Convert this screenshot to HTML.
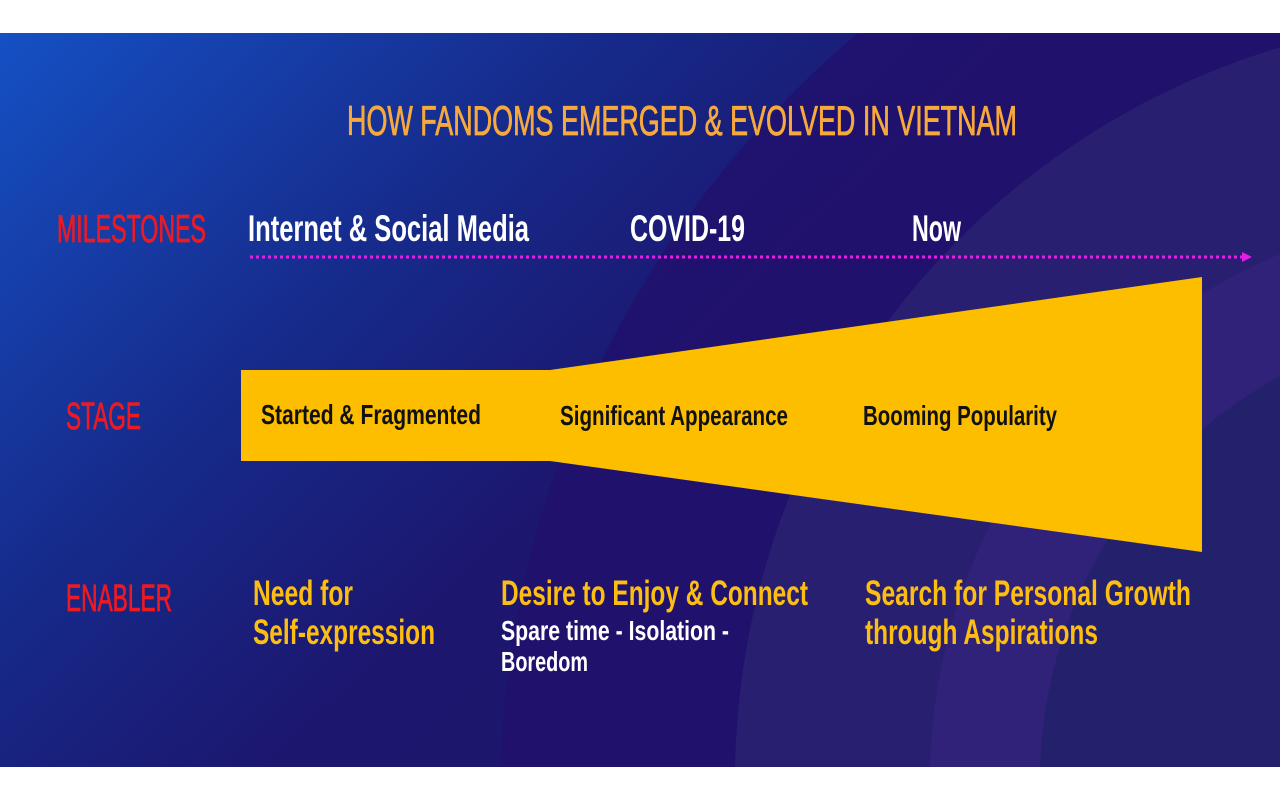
<!DOCTYPE html>
<html><head><meta charset="utf-8"><style>
html,body{margin:0;padding:0;background:#fff;width:1280px;height:800px;overflow:hidden;}
svg{display:block;}
text{font-family:"Liberation Sans Narrow","Liberation Sans",sans-serif;font-weight:bold;}
</style></head><body>
<svg width="1280" height="800" viewBox="0 0 1280 800" xmlns="http://www.w3.org/2000/svg">
<defs>
<linearGradient id="bg" x1="0" y1="0" x2="1" y2="0.6">
<stop offset="0" stop-color="#1550c4"/>
<stop offset="0.35" stop-color="#162a8a"/>
<stop offset="0.6" stop-color="#1c166e"/>
<stop offset="1" stop-color="#1f176a"/>
</linearGradient>
<clipPath id="c"><rect x="0" y="33" width="1280" height="734"/></clipPath>
</defs>
<rect x="0" y="0" width="1280" height="800" fill="#fff"/>
<g clip-path="url(#c)">
<rect x="0" y="33" width="1280" height="734" fill="url(#bg)"/>
<circle cx="1500" cy="800" r="1000" fill="#22106c" opacity="0.75"/>
<circle cx="1500" cy="780" r="765" fill="#2a2272" opacity="0.85"/>
<circle cx="1500" cy="780" r="570" fill="#33237a" opacity="0.85"/>
<circle cx="1500" cy="780" r="460" fill="#22206a" opacity="0.9"/>
</g>
<rect x="0" y="767" width="1280" height="33" fill="#fff"/>

<text x="347" y="135" font-size="42" fill="#f7a93c" style="font-weight:normal" textLength="670" lengthAdjust="spacingAndGlyphs" stroke="#f7a93c" stroke-width="0.8">HOW FANDOMS EMERGED &amp; EVOLVED IN VIETNAM</text>

<text x="57" y="242" font-size="39" fill="#ee1a22" style="font-weight:normal" stroke="#ee1a22" stroke-width="0.8" textLength="149" lengthAdjust="spacingAndGlyphs">MILESTONES</text>
<text x="248" y="241" font-size="37" fill="#fff" textLength="281" lengthAdjust="spacingAndGlyphs">Internet &amp; Social Media</text>
<text x="630" y="241" font-size="37" fill="#fff" textLength="115" lengthAdjust="spacingAndGlyphs">COVID-19</text>
<text x="912" y="241" font-size="37" fill="#fff" textLength="49" lengthAdjust="spacingAndGlyphs">Now</text>

<line x1="250" y1="257" x2="1242" y2="257" stroke="#e81ce8" stroke-width="3" stroke-dasharray="3 3"/>
<polygon points="1242,252 1252,257 1242,262" fill="#e81ce8"/>

<polygon points="241,370 550,370 1202,277 1202,552 550,461 241,461" fill="#fdbe00"/>

<text x="66" y="429" font-size="38" fill="#ee1a22" style="font-weight:normal" stroke="#ee1a22" stroke-width="0.8" textLength="75" lengthAdjust="spacingAndGlyphs">STAGE</text>
<text x="261" y="424" font-size="28" fill="#111" textLength="220" lengthAdjust="spacingAndGlyphs">Started &amp; Fragmented</text>
<text x="560" y="425" font-size="28" fill="#111" textLength="228" lengthAdjust="spacingAndGlyphs">Significant Appearance</text>
<text x="863" y="425" font-size="28" fill="#111" textLength="194" lengthAdjust="spacingAndGlyphs">Booming Popularity</text>

<text x="66" y="611" font-size="38" fill="#ee1a22" style="font-weight:normal" stroke="#ee1a22" stroke-width="0.8" textLength="106" lengthAdjust="spacingAndGlyphs">ENABLER</text>
<text x="253" y="605" font-size="35" fill="#fdbe11" textLength="100" lengthAdjust="spacingAndGlyphs">Need for</text>
<text x="253" y="644" font-size="35" fill="#fdbe11" textLength="182" lengthAdjust="spacingAndGlyphs">Self-expression</text>
<text x="501" y="605" font-size="35" fill="#fdbe11" textLength="307" lengthAdjust="spacingAndGlyphs">Desire to Enjoy &amp; Connect</text>
<text x="501" y="640" font-size="28" fill="#fff" textLength="228" lengthAdjust="spacingAndGlyphs">Spare time - Isolation -</text>
<text x="501" y="671" font-size="28" fill="#fff" textLength="87" lengthAdjust="spacingAndGlyphs">Boredom</text>
<text x="865" y="605" font-size="35" fill="#fdbe11" textLength="326" lengthAdjust="spacingAndGlyphs">Search for Personal Growth</text>
<text x="865" y="644" font-size="35" fill="#fdbe11" textLength="233" lengthAdjust="spacingAndGlyphs">through Aspirations</text>
</svg>
</body></html>
